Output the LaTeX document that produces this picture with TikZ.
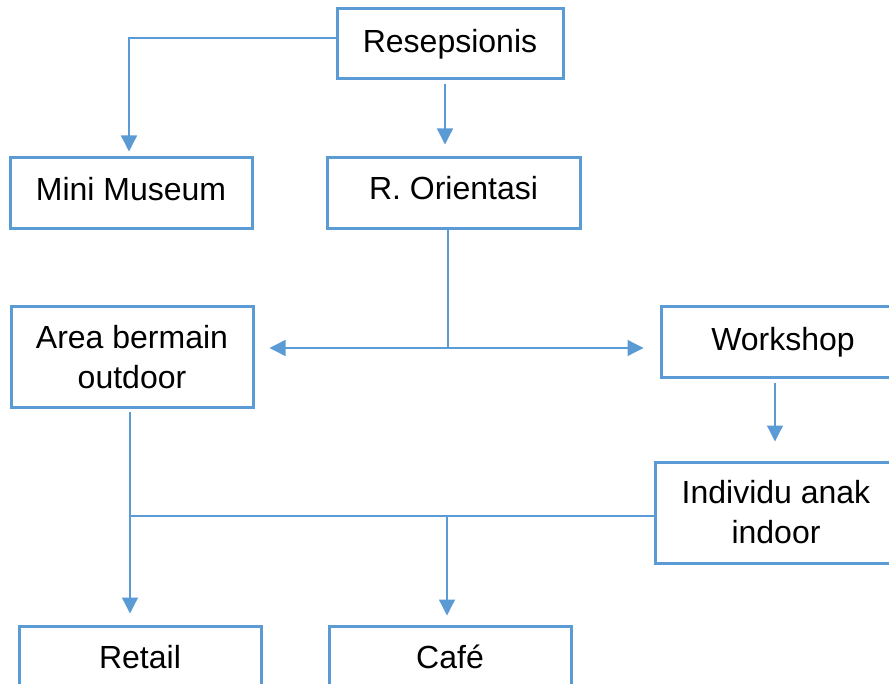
\documentclass[tikz,border=0pt]{standalone}
\usepackage{fontspec}
\setmainfont{Liberation Sans}
\usepackage{tikz}
\usetikzlibrary{arrows.meta,calc}
\definecolor{boxblue}{RGB}{91,155,213}

\begin{document}
\begin{tikzpicture}[x=0.5pt, y=-0.5pt,
        box/.style={draw=boxblue, line width=1.5pt, inner sep=0pt, align=center,
            font=\fontsize{16}{20}\selectfont},
        link/.style={draw=boxblue, line width=0.65pt},
        arr/.style={link, -{Triangle[width=8pt,length=8pt]}}]
            \useasboundingbox (0,0) rectangle (889,684);
            \clip (0,0) rectangle (889,684);
            \node [box, minimum width=113pt, minimum height=35pt]   (resep)  at (450,44)    {Resepsionis};
            \node [box, minimum width=121pt, minimum height=35.5pt] (museum) at (131,193.5) {Mini Museum\rule[-5pt]{0pt}{0pt}};
            \node [box, minimum width=126.5pt, minimum height=35.5pt] (orient) at (453.5,193.5) {R. Orientasi\rule[-6pt]{0pt}{0pt}};
            \node [box, minimum width=121pt, minimum height=50pt]   (area)   at (132,357)   {Area bermain\\outdoor};
            \node [box, minimum width=122pt, minimum height=35pt]   (work)   at (783,342)   {Workshop};
            \node [box, minimum width=121pt, minimum height=50.5pt] (indiv)  at (776,512.5) {Individu anak\\indoor};
            \node [box, minimum width=121pt, minimum height=34pt]   (retail) at (140,660)   {Retail\rule[-3pt]{0pt}{0pt}};
            \node [box, minimum width=121pt, minimum height=34pt]   (cafe)   at (450,660)   {Café\rule[-3pt]{0pt}{0pt}};
            \coordinate (split) at (448,348);
            \coordinate (merge) at (130,516);
            % from reception
            \draw [arr, shorten >=2.5pt] ([yshift=3pt]resep.west) -| ([xshift=-1pt]museum.north);
            \draw [arr, shorten <=2pt, shorten >=6pt] ([xshift=-2.5pt]resep.south) -- ([xshift=-2.5pt]resep.south |- orient.north);
            % orientation splits both ways
            \draw [link] (orient.south -| split) -- (split);
            \draw [arr, shorten >=7.5pt] (split) -- (split -| area.east);
            \draw [arr, shorten >=8pt] (split) -- (split -| work.west);
            \draw [arr, shorten <=2pt, shorten >=9.5pt] ([xshift=-4pt]work.south) -- ([xshift=-4pt]work.south |- indiv.north);
            % join towards retail and cafe
            \draw [arr, shorten <=1.5pt, shorten >=5.5pt] (area.south -| merge) -- (merge |- retail.north);
            \draw [link] (indiv.west |- merge) -- (merge);
            \draw [arr, shorten >=4.5pt] ([xshift=-1.5pt]cafe.north |- merge) -- ([xshift=-1.5pt]cafe.north);
\end{tikzpicture}
\end{document}
